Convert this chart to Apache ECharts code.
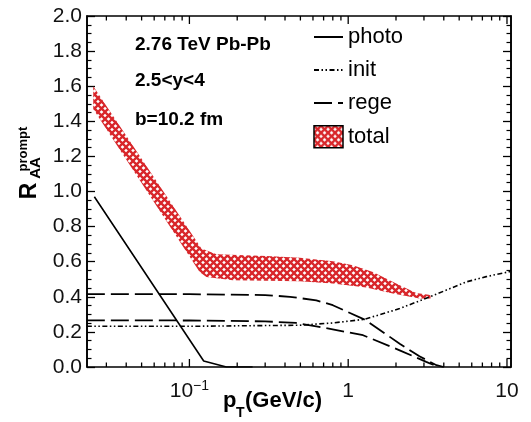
<!DOCTYPE html>
<html><head><meta charset="utf-8">
<script src="https://cdn.jsdelivr.net/npm/echarts@6/dist/echarts.min.js"></script>
<style>html,body{margin:0;padding:0;background:#fff}#c{width:531px;height:422px}</style>
</head><body><div id="c"></div>
<script>
// ---- data ----
const photoX = [0.0252, 0.123, 0.171, 0.25];
const photoY = [0.97, 0.034, 0.0, 0.0];

const initX = [0.0226, 0.1, 0.495, 0.8, 1.27, 2.11, 3.27, 5.55, 7.4, 10.6];
const initY = [0.232, 0.232, 0.238, 0.251, 0.272, 0.333, 0.40, 0.485, 0.515, 0.545];

const regeUpX = [0.0226, 0.1, 0.3, 0.43, 0.63, 0.8, 1.27, 2.11, 2.81, 3.6, 4.0];
const regeUpY = [0.415, 0.415, 0.41, 0.40, 0.38, 0.352, 0.27, 0.133, 0.061, 0.01, 0.0];

const regeLoX = [0.0226, 0.1, 0.3, 0.47, 0.63, 1.24, 2.11, 3.1, 3.7];
const regeLoY = [0.266, 0.265, 0.26, 0.251, 0.232, 0.181, 0.095, 0.029, 0.0];

const totalUpX = [0.0248, 0.119, 0.148, 0.306, 0.495, 0.80, 1.07, 1.43, 2.11, 2.68, 3.3];
const totalUpY = [1.60, 0.675, 0.643, 0.632, 0.622, 0.603, 0.58, 0.542, 0.466, 0.422, 0.41];
const totalLoX = [0.0248, 0.116, 0.128, 0.188, 0.495, 0.80, 1.30, 1.91, 2.81, 3.3];
const totalLoY = [1.47, 0.542, 0.513, 0.495, 0.489, 0.476, 0.453, 0.419, 0.39, 0.39];

const xMajorTicks = [0.1, 1, 10];
const xMinorTicks = [0.03,0.04,0.05,0.06,0.07,0.08,0.09,0.2,0.3,0.4,0.5,0.6,0.7,0.8,0.9,2,3,4,5,6,7,8,9];
const yTickLabels = ['0.0','0.2','0.4','0.6','0.8','1.0','1.2','1.4','1.6','1.8','2.0'];
const annotations = ['2.76 TeV Pb-Pb', '2.5<y<4', 'b=10.2 fm'];

const FONT = "'Liberation Sans', Arial, Helvetica, sans-serif";
const RED = '#d8262a';

function makeHatch(){
  const n = 7;
  const c = document.createElement('canvas'); c.width = n; c.height = n;
  const g = c.getContext('2d');
  g.fillStyle = '#fff'; g.fillRect(0,0,n,n);
  g.strokeStyle = RED; g.lineWidth = 2.3;
  g.beginPath();
  g.moveTo(-1,-1); g.lineTo(n+1,n+1);
  g.moveTo(n+1,-1); g.lineTo(-1,n+1);
  g.stroke();
  return c;
}
const hatch = {image: makeHatch(), repeat: 'repeat'};

const zip = (xs, ys) => xs.map((x,i)=>[x, ys[i]]);
const tickData = xMajorTicks.map(v=>[v,1]).concat(xMinorTicks.map(v=>[v,0]));
const noSym = {color:'rgba(0,0,0,0)', borderWidth:0};

const chart = echarts.init(document.getElementById('c'), null, {renderer:'canvas'});
chart.setOption({
  animation:false,
  backgroundColor:'#fff',
  textStyle:{fontFamily:FONT},
  grid:{left:87, right:20, top:16, bottom:55, show:true, borderColor:'#000', borderWidth:1.6, backgroundColor:'transparent'},
  xAxis:[{
    type:'log', logBase:10, min:0.02265, max:10.6,
    axisLine:{show:false}, axisTick:{show:false}, splitLine:{show:false}, minorTick:{show:false},
    axisLabel:{
      showMinLabel:false, showMaxLabel:false, margin:12, color:'#111', fontSize:21, fontFamily:FONT,
      formatter:function(v){
        const l = Math.log10(v);
        if (Math.abs(l+1)<1e-6) return '{n|10}{s|\u22121}';
        if (Math.abs(l)<1e-6) return '{n|1}';
        if (Math.abs(l-1)<1e-6) return '{n|10}';
        return '';
      },
      rich:{n:{fontSize:21, lineHeight:24, color:'#111', fontFamily:FONT},
            s:{fontSize:14, lineHeight:14, verticalAlign:'top', color:'#111', fontFamily:FONT}}
    }
  }],
  yAxis:[{
    type:'value', min:0, max:2, interval:0.2, position:'left',
    axisLine:{show:true, lineStyle:{color:'#000', width:1.6}},
    axisTick:{show:true, inside:true, length:8, lineStyle:{color:'#000', width:1.3}},
    minorTick:{show:true, splitNumber:4, length:4.5, lineStyle:{color:'#000', width:1.2}},
    splitLine:{show:false},
    axisLabel:{margin:5, fontSize:21, color:'#111', fontFamily:FONT,
      formatter:function(v){ return yTickLabels[Math.round(v/0.2)]; }}
  },{
    type:'value', min:0, max:2, interval:0.2, position:'right',
    axisLine:{show:true, lineStyle:{color:'#000', width:1.6}},
    axisTick:{show:true, inside:true, length:8, lineStyle:{color:'#000', width:1.3}},
    minorTick:{show:true, splitNumber:4, length:4.5, lineStyle:{color:'#000', width:1.2}},
    splitLine:{show:false}, axisLabel:{show:false}
  }],
  legend:{
    orient:'vertical', left:313, top:26, padding:0, itemWidth:29, itemHeight:22, itemGap:11,
    textStyle:{fontSize:22, color:'#000', fontFamily:FONT},
    data:[
      {name:'photo', itemStyle:noSym},
      {name:'init', itemStyle:noSym},
      {name:'rege', itemStyle:noSym},
      {name:'total', icon:'rect', itemStyle:{color:hatch, borderColor:'#000', borderWidth:1.5}}
    ]
  },
  graphic:[
    {type:'text', left:135, top:35, style:{text:annotations[0], font:"bold 19px "+FONT, fill:'#000'}},
    {type:'text', left:135, top:71, style:{text:annotations[1], font:"bold 19px "+FONT, fill:'#000'}},
    {type:'text', left:135, top:110, style:{text:annotations[2], font:"bold 19px "+FONT, fill:'#000'}},
    {type:'text', x:223, y:401, style:{text:'p', font:"bold 22px "+FONT, fill:'#000', verticalAlign:'middle'}},
    {type:'text', x:236, y:413, style:{text:'T', font:"bold 14px "+FONT, fill:'#000', verticalAlign:'middle'}},
    {type:'text', x:245, y:401, style:{text:'(GeV/c)', font:"bold 22px "+FONT, fill:'#000', verticalAlign:'middle'}},
    {type:'text', x:30, y:191, rotation:Math.PI/2, style:{text:'R', font:"bold 23px "+FONT, fill:'#000', align:'center', verticalAlign:'middle'}},
    {type:'text', x:36, y:168, rotation:Math.PI/2, style:{text:'AA', font:"bold 15px "+FONT, fill:'#000', align:'center', verticalAlign:'middle'}},
    {type:'text', x:23, y:149, rotation:Math.PI/2, style:{text:'prompt', font:"bold 13px "+FONT, fill:'#000', align:'center', verticalAlign:'middle'}}
  ],
  series:[
    {
      type:'custom', name:'total', data:[[1,1]], itemStyle:{color:hatch}, z:1,
      renderItem:function(params, api){
        const pts = [];
        for (let i=0;i<totalUpX.length;i++) pts.push(api.coord([totalUpX[i], totalUpY[i]]));
        for (let i=totalLoX.length-1;i>=0;i--) pts.push(api.coord([totalLoX[i], totalLoY[i]]));
        return {type:'polygon', shape:{points:pts}, style:{fill:hatch, stroke:null}};
      }
    },
    {type:'line', name:'photo', data:zip(photoX, photoY), symbol:'none', z:3,
      lineStyle:{color:'#000', width:1.6, type:'solid'}, itemStyle:{color:'#000'}},
    {type:'line', name:'init', data:zip(initX, initY), symbol:'none', z:3,
      lineStyle:{color:'#000', width:1.6, type:[5,2.5,1.5,2.5,1.5,2.5]}, itemStyle:{color:'#000'}},
    {type:'line', name:'rege', data:zip(regeUpX, regeUpY), symbol:'none', z:3,
      lineStyle:{color:'#000', width:1.8, type:[18,6]}, itemStyle:{color:'#000'}},
    {type:'line', name:'rege', data:zip(regeLoX, regeLoY), symbol:'none', z:3,
      lineStyle:{color:'#000', width:1.8, type:[18,6]}, itemStyle:{color:'#000'}},
    {
      type:'custom', name:'xticks', data:tickData, z:4, silent:true,
      renderItem:function(params, api){
        const v = api.value(0), major = api.value(1);
        const b = api.coord([v, 0]), t = api.coord([v, 2]);
        const len = major ? 8 : 4.5;
        return {type:'group', children:[
          {type:'line', shape:{x1:b[0], y1:b[1], x2:b[0], y2:b[1]-len}, style:{stroke:'#000', lineWidth:1.3}},
          {type:'line', shape:{x1:t[0], y1:t[1], x2:t[0], y2:t[1]+len}, style:{stroke:'#000', lineWidth:1.3}}
        ]};
      }
    }
  ]
});
</script></body></html>
